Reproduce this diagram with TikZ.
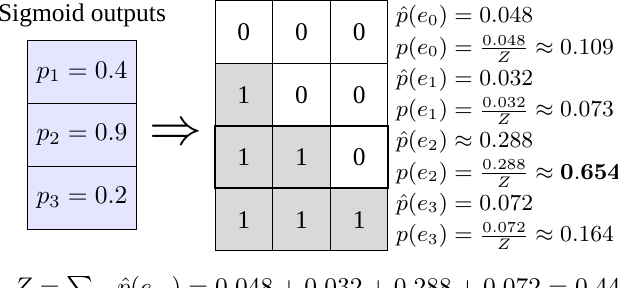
\documentclass[tikz,border=0pt]{standalone}
\usepackage{amsmath, amssymb}
\usepackage[no-math]{fontspec}
\setmainfont{Liberation Serif}
\usetikzlibrary{positioning}

\begin{document}
\begin{tikzpicture}[
        prob/.style={draw, fill=blue!10, minimum width=43.1pt, minimum height=24.6pt, inner sep=0pt, outer sep=0pt},
        cell/.style={draw, minimum width=22.6pt, minimum height=24.5pt, inner sep=0pt, outer sep=0pt},
        on/.style={cell, fill=gray!30},
        lbl/.style={anchor=west, align=left, inner sep=3pt, yshift=-0.6pt, font=\fontsize{9}{11}\selectfont}
    ]
        \useasboundingbox (0,0) rectangle (8.515,-3.968);
        \clip (0,0) rectangle (8.515,-3.968);

        % Sigmoid outputs
        \node[prob] (p1) at (1.130,-0.996) {$p_1 = 0.4$};
        \node[prob, below=0pt of p1] (p2) {$p_2 = 0.9$};
        \node[prob, below=0pt of p2] (p3) {$p_3 = 0.2$};
        \node[above=2pt of p1] (title) {Sigmoid outputs};

        % Implication
        \node[right=1.3pt of p2] (impl) {\fontsize{22.5}{26}\selectfont$\Rightarrow$};

        % Events
        \node[cell] (c00) at (3.360,-0.444) {0};
        \node[cell, right=0pt of c00] (c01) {0};
        \node[cell, right=0pt of c01] (c02) {0};

        \node[on, below=0pt of c00] (c10) {1};
        \node[cell, right=0pt of c10] (c11) {0};
        \node[cell, right=0pt of c11] (c12) {0};

        \node[on, below=0pt of c10] (c20) {1};
        \node[on, right=0pt of c20] (c21) {1};
        \node[cell, right=0pt of c21] (c22) {0};

        \node[on, below=0pt of c20] (c30) {1};
        \node[on, right=0pt of c30] (c31) {1};
        \node[on, right=0pt of c31] (c32) {1};

        % Chosen event
        \draw[thick] (c20.north west) rectangle (c22.south east);

        % Probabilities
        \node[lbl, right=0pt of c02] (e0) {$\hat{p}(e_0) = 0.048$\\[1.5pt] $p(e_0) = \frac{0.048}{Z} \approx 0.109$};
        \node[lbl, right=0pt of c12] (e1) {$\hat{p}(e_1) = 0.032$\\[1.5pt] $p(e_1) = \frac{0.032}{Z} \approx 0.073$};
        \node[lbl, right=0pt of c22] (e2) {$\hat{p}(e_2) \approx 0.288$\\[1.5pt] $p(e_2) = \frac{0.288}{Z} \approx \mathbf{0.654}$};
        \node[lbl, right=0pt of c32] (e3) {$\hat{p}(e_3) = 0.072$\\[1.5pt] $p(e_3) = \frac{0.072}{Z} \approx 0.164$};

        % Normalizer
        \node[anchor=base west, inner sep=0pt] (zsum) at (0.179,-4.078)
            {$Z = \sum_{m} \hat{p}(e_m) = 0.048 + 0.032 + 0.288 + 0.072 = 0.44$};
    \end{tikzpicture}
\end{document}
